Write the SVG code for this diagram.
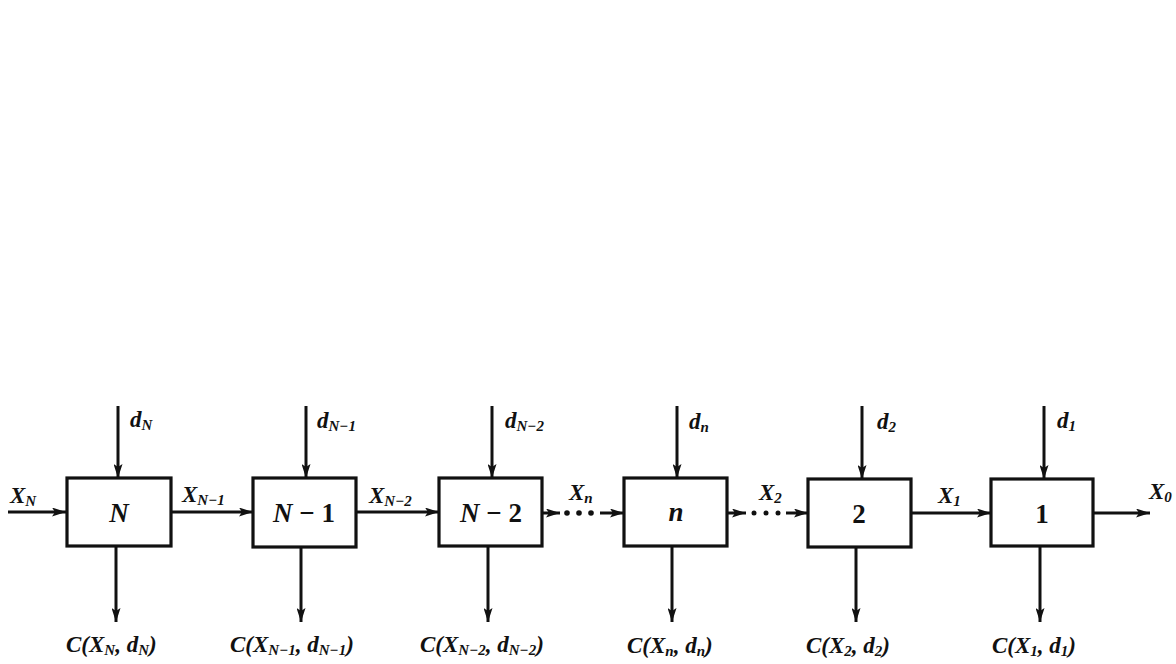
<svg xmlns="http://www.w3.org/2000/svg" width="1176" height="664" viewBox="0 0 1176 664">
<style>
.box{fill:#fff;stroke:#111;stroke-width:3.2}
.ln{stroke:#111;stroke-width:3;fill:none}
.dot{fill:#111}
.t{font-family:"Liberation Serif","DejaVu Serif",serif;font-weight:bold;font-style:italic;font-size:23px;fill:#111}
.bl{font-family:"Liberation Serif","DejaVu Serif",serif;font-weight:bold;font-size:27px;fill:#111}
.big{font-size:27px}
.s{font-size:15px}
</style>
<defs>
<marker id="ah" viewBox="0 0 14 9" refX="14" refY="4.5" markerWidth="14" markerHeight="9" markerUnits="userSpaceOnUse" orient="auto">
<path d="M0,0 L14,4.5 L0,9 L3,4.5 Z" fill="#111"/>
</marker>
</defs>
<rect width="1176" height="664" fill="#fff"/>

<g id="connectors">
<line class="ln" x1="8" y1="512" x2="66" y2="512" marker-end="url(#ah)"/>
<line class="ln" x1="171" y1="512" x2="253" y2="512" marker-end="url(#ah)"/>
<line class="ln" x1="356" y1="512" x2="439" y2="512" marker-end="url(#ah)"/>
<line class="ln" x1="542" y1="513" x2="560" y2="513" marker-end="url(#ah)"/>
<circle class="dot" cx="567" cy="513" r="2.8"/><circle class="dot" cx="579" cy="513" r="2.8"/><circle class="dot" cx="591" cy="513" r="2.8"/>
<line class="ln" x1="600" y1="513" x2="624" y2="513" marker-end="url(#ah)"/>
<line class="ln" x1="727" y1="513" x2="746" y2="513" marker-end="url(#ah)"/>
<circle class="dot" cx="754" cy="513" r="2.5"/><circle class="dot" cx="766" cy="513" r="2.5"/><circle class="dot" cx="778" cy="513" r="2.5"/>
<line class="ln" x1="786" y1="513" x2="808" y2="513" marker-end="url(#ah)"/>
<line class="ln" x1="911" y1="513" x2="991" y2="513" marker-end="url(#ah)"/>
<line class="ln" x1="1093" y1="513" x2="1150" y2="513" marker-end="url(#ah)"/>
<line class="ln" x1="118" y1="406" x2="118" y2="478" marker-end="url(#ah)"/>
<line class="ln" x1="306" y1="406" x2="306" y2="478" marker-end="url(#ah)"/>
<line class="ln" x1="492" y1="406" x2="492" y2="478" marker-end="url(#ah)"/>
<line class="ln" x1="677" y1="406" x2="677" y2="478" marker-end="url(#ah)"/>
<line class="ln" x1="862" y1="406" x2="862" y2="479" marker-end="url(#ah)"/>
<line class="ln" x1="1044" y1="406" x2="1044" y2="479" marker-end="url(#ah)"/>
<line class="ln" x1="116" y1="546" x2="116" y2="622" marker-end="url(#ah)"/>
<line class="ln" x1="301" y1="547" x2="301" y2="622" marker-end="url(#ah)"/>
<line class="ln" x1="488" y1="546" x2="488" y2="622" marker-end="url(#ah)"/>
<line class="ln" x1="672" y1="546" x2="672" y2="622" marker-end="url(#ah)"/>
<line class="ln" x1="856" y1="547" x2="856" y2="622" marker-end="url(#ah)"/>
<line class="ln" x1="1040" y1="546" x2="1040" y2="622" marker-end="url(#ah)"/>
</g>

<g id="edge-labels">
<text class="t" x="10" y="503">X<tspan class="s" dy="3">N</tspan></text>
<text class="t" x="182" y="502">X<tspan class="s" dy="3">N−1</tspan></text>
<text class="t" x="369" y="503">X<tspan class="s" dy="3">N−2</tspan></text>
<text class="t" x="569" y="500">X<tspan class="s" dy="3">n</tspan></text>
<text class="t" x="759" y="500">X<tspan class="s" dy="3">2</tspan></text>
<text class="t" x="938" y="503">X<tspan class="s" dy="3">1</tspan></text>
<text class="t" x="1149" y="499">X<tspan class="s" dy="3">0</tspan></text>

<text class="t" x="130" y="427">d<tspan class="s" dy="3">N</tspan></text>
<text class="t" x="317" y="428">d<tspan class="s" dy="3">N−1</tspan></text>
<text class="t" x="505" y="428">d<tspan class="s" dy="3">N−2</tspan></text>
<text class="t" x="689" y="429">d<tspan class="s" dy="3">n</tspan></text>
<text class="t" x="877" y="429">d<tspan class="s" dy="3">2</tspan></text>
<text class="t" x="1057" y="428">d<tspan class="s" dy="3">1</tspan></text>

<text class="t" x="66" y="652">C(X<tspan class="s" dy="3">N</tspan><tspan dy="-3">, d</tspan><tspan class="s" dy="3">N</tspan><tspan dy="-3">)</tspan></text>
<text class="t" x="230" y="652">C(X<tspan class="s" dy="3">N−1</tspan><tspan dy="-3">, d</tspan><tspan class="s" dy="3">N−1</tspan><tspan dy="-3">)</tspan></text>
<text class="t" x="420" y="652">C(X<tspan class="s" dy="3">N−2</tspan><tspan dy="-3">, d</tspan><tspan class="s" dy="3">N−2</tspan><tspan dy="-3">)</tspan></text>
<text class="t" x="627" y="653">C(X<tspan class="s" dy="3">n</tspan><tspan dy="-3">, d</tspan><tspan class="s" dy="3">n</tspan><tspan dy="-3">)</tspan></text>
<text class="t" x="806" y="653">C(X<tspan class="s" dy="3">2</tspan><tspan dy="-3">, d</tspan><tspan class="s" dy="3">2</tspan><tspan dy="-3">)</tspan></text>
<text class="t" x="992" y="653">C(X<tspan class="s" dy="3">1</tspan><tspan dy="-3">, d</tspan><tspan class="s" dy="3">1</tspan><tspan dy="-3">)</tspan></text>
</g>

<g id="node-N"><rect class="box" x="67" y="478" width="104" height="68"/><text class="t big" x="119" y="522" text-anchor="middle">N</text></g>
<g id="node-N-1"><rect class="box" x="253" y="478" width="103" height="69"/><text class="bl" x="304" y="522" text-anchor="middle"><tspan font-style="italic">N</tspan> − 1</text></g>
<g id="node-N-2"><rect class="box" x="439" y="478" width="103" height="68"/><text class="bl" x="491" y="522" text-anchor="middle"><tspan font-style="italic">N</tspan> − 2</text></g>
<g id="node-n"><rect class="box" x="624" y="478" width="103" height="68"/><text class="t big" x="676" y="521" text-anchor="middle">n</text></g>
<g id="node-2"><rect class="box" x="808" y="479" width="103" height="68"/><text class="bl" x="859" y="523" text-anchor="middle">2</text></g>
<g id="node-1"><rect class="box" x="991" y="479" width="102" height="67"/><text class="bl" x="1042" y="523" text-anchor="middle">1</text></g>
</svg>
